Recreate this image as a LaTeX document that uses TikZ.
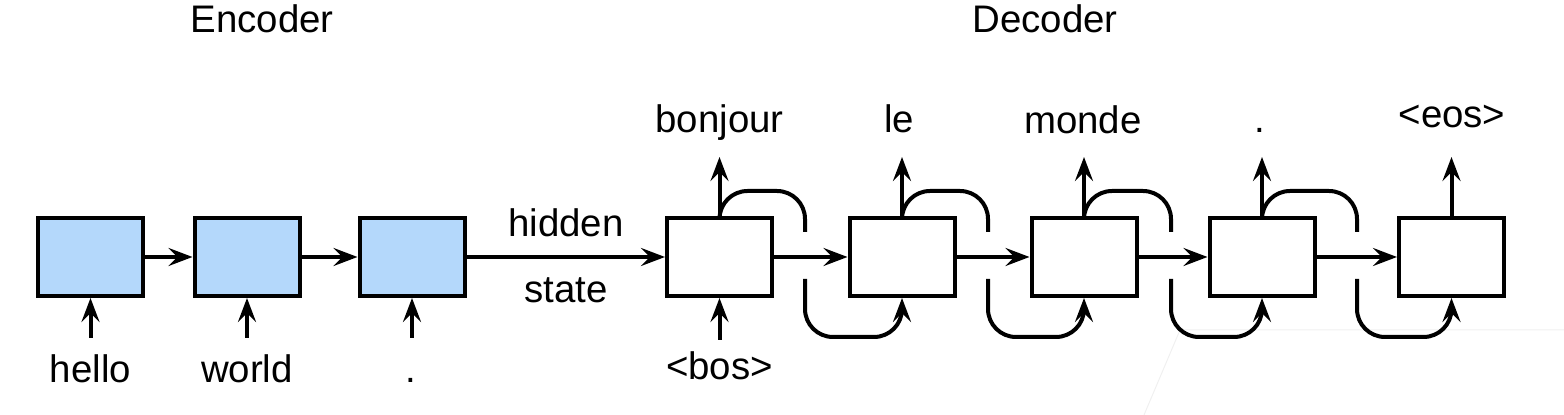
\documentclass[tikz,border=0pt]{standalone}
\usepackage{fontspec}
\setmainfont{Liberation Sans}
\usetikzlibrary{arrows.meta}
\definecolor{encblue}{HTML}{B4D8FB}
\tikzset{
  cell/.style={draw=black, line width=2pt, minimum width=52.5pt, minimum height=39pt, inner sep=0pt},
  enccell/.style={cell, fill=encblue},
  deccell/.style={cell, fill=white},
  wire/.style={draw=black, line width=2pt},
  arr/.style={wire, -{Stealth[length=12pt,width=9pt,inset=4.5pt]}},
  lbl/.style={anchor=base, inner sep=0pt, font=\fontsize{19.2}{23}\selectfont}
}
\begin{document}
\begin{tikzpicture}[x=0.5pt,y=-0.5pt]
\useasboundingbox (0,0) rectangle (1564,415);
% faint background artefact lines
\draw[gray!12, line width=0.5pt] (1144,415) -- (1180,330) -- (1564,330);

% titles
\node[lbl] (enc) at (262,33) {Encoder};
\node[lbl] (dec) at (1045,33) {Decoder};

% encoder cells
\node[enccell] (e1) at (90.5,257) {};
\node[enccell] (e2) at (247,257) {};
\node[enccell] (e3) at (412,257) {};

% decoder cells
\node[deccell] (d1) at (719.5,257) {};
\node[deccell] (d2) at (902,257) {};
\node[deccell] (d3) at (1084,257) {};
\node[deccell] (d4) at (1262,257) {};
\node[deccell] (d5) at (1451.5,257) {};

% horizontal connectors
\draw[arr] (e1.east) -- (e2.west);
\draw[arr] (e2.east) -- (e3.west);
\draw[arr] (e3.east) -- (d1.west);
\draw[arr] (d1.east) -- (d2.west);
\draw[arr] (d2.east) -- (d3.west);
\draw[arr] (d3.east) -- (d4.west);
\draw[arr] (d4.east) -- (d5.west);

% hidden state labels
\node[lbl] (hid) at (566,237) {hidden};
\node[lbl] (sta) at (566,303) {state};

% encoder inputs
\node[lbl] (x1) at (90.5,383) {hello};
\node[lbl] (x2) at (247,383) {world};
\node[lbl] (x3) at (411,383) {.};
\coordinate (i1) at (90.5,338);
\coordinate (i2) at (247,338);
\coordinate (i3) at (412,338);
\draw[arr] (i1) -- (e1.south);
\draw[arr] (i2) -- (e2.south);
\draw[arr] (i3) -- (e3.south);

% decoder input
\node[lbl] (bos) at (719.5,380) {<bos>};
\coordinate (i4) at (719.5,340);
\draw[arr] (i4) -- (d1.south);

% decoder outputs
\node[lbl] (y1) at (719.5,133) {bonjour};
\node[lbl] (y2) at (899,133) {le};
\node[lbl] (y3) at (1083,134) {monde};
\node[lbl] (y4) at (1260,133) {.};
\node[lbl] (y5) at (1452,128) {<eos>};
\coordinate (o1) at (719.5,157);
\coordinate (o2) at (902,157);
\coordinate (o3) at (1084,157);
\coordinate (o4) at (1262,157);
\coordinate (o5) at (1451.5,157);
\draw[arr] (d1.north) -- (o1);
\draw[arr] (d2.north) -- (o2);
\draw[arr] (d3.north) -- (o3);
\draw[arr] (d4.north) -- (o4);
\draw[arr] (d5.north) -- (o5);

% feedback loops
\foreach \a/\b/\x in {d1/d2/805, d2/d3/988, d3/d4/1171, d4/d5/1357}{
  \coordinate (t\a) at (\x,191);
  \coordinate (u\a) at (\x,232);
  \coordinate (v\a) at (\x,279);
  \coordinate (w\a) at (\x,337);
  \draw[wire, rounded corners=14pt] (\a.north) |- (t\a) -- (u\a);
  \draw[arr, rounded corners=14pt] (v\a) |- (\b.south |- w\a) -- (\b.south);
}
\end{tikzpicture}
\end{document}
